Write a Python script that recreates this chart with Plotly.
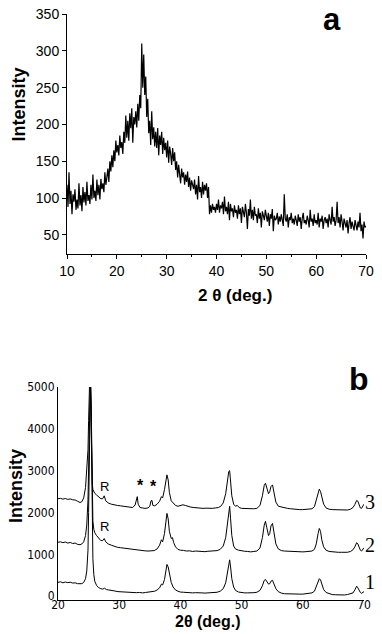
import plotly.graph_objects as go

# ---------------- Panel a data (2θ step 0.2°, 10 → 70) ----------------
a_start, a_step = 10.0, 0.2
a_intensity = [
    118, 88, 135, 92, 110, 78, 105, 95, 112, 84,
    98, 86, 120, 90, 104, 82, 115, 94, 108, 90,
    122, 96, 104, 92, 118, 98, 132, 100, 110, 96,
    125, 104, 118, 98, 126, 112, 120, 108, 135, 118,
    128, 140, 122, 150, 136, 158, 142, 165, 150, 178,
    162, 172, 158, 185, 168, 176, 160, 190, 175, 212,
    182, 205, 178, 215, 195, 222, 175, 210, 200, 218,
    196, 228, 205, 240, 222, 310, 250, 295, 240, 265,
    210, 235, 188, 205, 172, 218, 180, 196, 170, 190,
    168, 195, 158, 185, 172, 190, 160, 182, 165, 175,
    155, 178, 148, 170, 160, 145, 168, 150, 162, 138,
    150, 128, 145, 135, 120, 140, 128, 135, 118, 132,
    122, 136, 115, 128, 110, 124, 118, 112, 125, 105,
    118, 98, 130, 108, 115, 100, 122, 105, 118, 110,
    120, 100, 115, 78, 90, 80, 92, 84, 88, 80,
    92, 84, 98, 80, 90, 86, 95, 78, 102, 82,
    88, 78, 95, 70, 92, 82, 86, 74, 90, 80,
    84, 72, 90, 78, 86, 66, 88, 80, 74, 92,
    80, 58, 85, 76, 98, 72, 84, 70, 88, 76,
    78, 66, 86, 72, 80, 60, 82, 76, 70, 84,
    75, 68, 80, 62, 78, 72, 85, 55, 76, 70,
    72, 80, 64, 75, 68, 78, 70, 62, 105, 72,
    68, 78, 60, 74, 70, 80, 66, 72, 64, 76,
    70, 62, 78, 68, 74, 58, 72, 80, 66, 70,
    64, 76, 70, 60, 84, 68, 72, 62, 78, 66,
    70, 64, 80, 60, 72, 68, 76, 58, 70, 74,
    66, 72, 60, 78, 70, 64, 88, 68, 74, 62,
    70, 95, 66, 74, 60, 78, 68, 56, 72, 64,
    60, 70, 52, 66, 74, 58, 68, 62, 56, 70,
    62, 56, 68, 60, 80, 55, 64, 45, 68, 60,
    62,
]
a_theta = [round(a_start + i * a_step, 2) for i in range(len(a_intensity))]

# ---------------- Panel b data ----------------
b1_x = [20.0, 20.4, 20.8, 21.2, 21.6, 22.0, 22.4, 22.8, 23.2, 23.6, 23.9, 24.2, 24.5, 24.7, 24.9,
        25.0, 25.1, 25.2, 25.3, 25.4, 25.5, 25.6, 25.7, 25.85, 26.0, 26.3, 26.6, 27.0, 27.3, 27.6,
        27.9, 28.3, 28.8, 29.3, 29.8, 30.3, 30.8, 31.3, 31.8, 32.3, 32.8, 33.3, 33.8, 34.3, 34.8,
        35.3, 35.8, 36.2, 36.6, 36.9, 37.1, 37.4, 37.6, 37.8, 38.0, 38.2, 38.5, 38.8, 39.2, 39.6,
        40.0, 40.5, 41.0, 41.5, 42.0, 42.5, 43.0, 43.5, 44.0, 44.5, 45.0, 45.5, 46.0, 46.5, 47.0,
        47.4, 47.7, 47.9, 48.05, 48.2, 48.4, 48.7, 49.0, 49.5, 50.0, 50.5, 51.0, 51.5, 52.0, 52.5,
        53.0, 53.4, 53.7, 53.9, 54.1, 54.4, 54.6, 54.8, 55.05, 55.3, 55.6, 56.0, 56.5, 57.0, 57.5,
        58.0, 58.5, 59.0, 59.5, 60.0, 60.5, 61.0, 61.5, 61.9, 62.2, 62.5, 62.7, 62.9, 63.1, 63.4,
        63.8, 64.3, 64.8, 65.3, 65.8, 66.3, 66.8, 67.3, 67.8, 68.2, 68.5, 68.8, 69.0, 69.2, 69.4,
        69.6, 69.8, 70.0]
b1_y = [330, 345, 320, 340, 325, 335, 315, 320, 300, 290, 300, 330, 420, 600, 1100,
        2000, 3500, 4700, 5000, 4500, 3000, 1700, 900, 520, 360, 260, 210, 180, 170, 190,
        160, 150, 130, 125, 110, 105, 95, 100, 90, 95, 85, 90, 80, 90, 95,
        100, 120, 150, 200, 290, 270, 400, 620, 760, 700, 520, 330, 220, 150, 120,
        100, 95, 85, 90, 80, 85, 75, 80, 75, 80, 80, 85, 95, 120, 180,
        320, 600, 840, 870, 700, 420, 220, 140, 100, 85, 80, 80, 75, 85, 95,
        140, 250, 380, 400, 350, 290, 300, 360, 380, 300, 180, 110, 75, 60, 55,
        50, 55, 45, 50, 50, 55, 65, 80, 120, 220, 360, 420, 390, 280, 160,
        90, 55, 40, 35, 30, 35, 30, 40, 55, 80, 150, 240, 200, 130, 90,
        70, 90, 110]

b2_x = [20.0, 20.4, 20.8, 21.2, 21.6, 22.0, 22.4, 22.8, 23.2, 23.6, 23.9, 24.2, 24.5, 24.7, 24.9,
        25.0, 25.1, 25.2, 25.3, 25.4, 25.5, 25.6, 25.7, 25.85, 26.0, 26.3, 26.6, 27.0, 27.3, 27.55,
        27.8, 28.2, 28.7, 29.2, 29.7, 30.2, 30.7, 31.2, 31.7, 32.2, 32.7, 33.2, 33.7, 34.2, 34.7,
        35.2, 35.7, 36.2, 36.6, 36.9, 37.1, 37.4, 37.6, 37.8, 38.0, 38.2, 38.5, 38.7, 38.9, 39.2,
        39.6, 40.0, 40.5, 41.0, 41.5, 42.0, 42.5, 43.0, 43.5, 44.0, 44.5, 45.0, 45.5, 46.0, 46.5,
        47.0, 47.4, 47.7, 47.9, 48.05, 48.2, 48.4, 48.7, 49.0, 49.5, 50.0, 50.5, 51.0, 51.5, 52.0,
        52.5, 53.0, 53.4, 53.7, 53.9, 54.1, 54.4, 54.6, 54.8, 55.05, 55.3, 55.6, 56.0, 56.5, 57.0,
        57.5, 58.0, 58.5, 59.0, 59.5, 60.0, 60.5, 61.0, 61.5, 61.9, 62.2, 62.5, 62.7, 62.9, 63.1,
        63.4, 63.8, 64.3, 64.8, 65.3, 65.8, 66.3, 66.8, 67.3, 67.8, 68.2, 68.5, 68.8, 69.0, 69.2,
        69.4, 69.6, 69.8, 70.0]
b2_y = [1290, 1300, 1280, 1295, 1270, 1285, 1260, 1270, 1240, 1230, 1250, 1300, 1450, 1700, 2300,
        3000, 4000, 5000, 5300, 4800, 3400, 2300, 1800, 1600, 1520, 1450, 1400, 1330, 1330, 1380,
        1300, 1250, 1220, 1190, 1170, 1160, 1150, 1130, 1120, 1110, 1105, 1100, 1090, 1085, 1080,
        1080, 1090, 1130, 1220, 1350, 1300, 1500, 1800, 1980, 1850, 1550, 1380, 1400, 1280, 1180,
        1120, 1100, 1095, 1080, 1085, 1070, 1080, 1070, 1075, 1065, 1075, 1075, 1080, 1090, 1120,
        1200, 1400, 1800, 2100, 2150, 1850, 1450, 1200, 1130, 1100, 1080, 1075, 1070, 1060, 1070,
        1080, 1150, 1400, 1700, 1790, 1650, 1450, 1500, 1680, 1740, 1500, 1250, 1130, 1090, 1080,
        1075, 1070, 1075, 1065, 1070, 1060, 1065, 1070, 1080, 1120, 1250, 1500, 1620, 1550, 1350,
        1180, 1100, 1070, 1060, 1055, 1050, 1050, 1045, 1050, 1070, 1110, 1180, 1280, 1250, 1150,
        1100, 1080, 1120, 1160]

b3_x = [20.0, 20.4, 20.8, 21.2, 21.6, 22.0, 22.4, 22.8, 23.2, 23.6, 23.9, 24.2, 24.5, 24.7, 24.9,
        25.0, 25.1, 25.2, 25.3, 25.4, 25.5, 25.6, 25.7, 25.85, 26.0, 26.3, 26.6, 27.0, 27.3, 27.55,
        27.8, 28.2, 28.7, 29.2, 29.7, 30.2, 30.7, 31.2, 31.7, 32.2, 32.6, 32.8, 32.95, 33.1, 33.4,
        33.8, 34.2, 34.7, 35.0, 35.2, 35.35, 35.5, 35.8, 36.2, 36.6, 36.9, 37.1, 37.4, 37.6, 37.8,
        38.0, 38.2, 38.5, 38.8, 39.2, 39.6, 40.0, 40.4, 40.8, 41.2, 41.7, 42.2, 42.7, 43.2, 43.7,
        44.2, 44.7, 45.2, 45.7, 46.2, 46.6, 47.0, 47.4, 47.7, 47.9, 48.05, 48.2, 48.4, 48.7, 49.0,
        49.3, 49.6, 50.0, 50.5, 51.0, 51.5, 52.0, 52.5, 53.0, 53.4, 53.7, 53.9, 54.1, 54.4, 54.6,
        54.8, 55.05, 55.3, 55.6, 56.0, 56.5, 57.0, 57.5, 58.0, 58.5, 59.0, 59.5, 60.0, 60.5, 61.0,
        61.5, 61.9, 62.2, 62.5, 62.7, 62.9, 63.1, 63.4, 63.8, 64.3, 64.8, 65.3, 65.8, 66.3, 66.8,
        67.3, 67.8, 68.2, 68.5, 68.8, 69.0, 69.2, 69.4, 69.6, 69.8, 70.0]
b3_y = [2330, 2340, 2320, 2335, 2315, 2325, 2305, 2300, 2270, 2240, 2260, 2350, 2600, 3000, 3500,
        4200, 5000, 5300, 5200, 4000, 3100, 2700, 2550, 2500, 2460, 2420, 2380, 2330, 2330, 2400,
        2280, 2230, 2200, 2180, 2170, 2160, 2150, 2140, 2120, 2120, 2180, 2350, 2380, 2200, 2120,
        2110, 2100, 2110, 2150, 2280, 2290, 2170, 2160, 2200, 2270, 2380, 2350, 2550, 2780, 2900,
        2780, 2480, 2280, 2220, 2170, 2150, 2160, 2185, 2170, 2150, 2130, 2120, 2110, 2110, 2100,
        2105, 2100, 2100, 2110, 2120, 2150, 2230, 2450, 2750, 2980, 3000, 2750, 2400, 2200, 2150,
        2170, 2120, 2100, 2095, 2090, 2085, 2090, 2100, 2170, 2400, 2650, 2700, 2600, 2450, 2500,
        2620, 2660, 2480, 2250, 2150, 2130, 2120, 2100, 2090, 2080, 2075, 2070, 2070, 2075, 2080,
        2090, 2140, 2280, 2480, 2560, 2500, 2350, 2200, 2110, 2080, 2070, 2065, 2060, 2060, 2055,
        2060, 2080, 2120, 2190, 2290, 2270, 2160, 2110, 2100, 2140, 2200]

a_xticks = [10, 20, 30, 40, 50, 60, 70]
a_yticks = [50, 100, 150, 200, 250, 300, 350]
b_xticks = [20, 30, 40, 50, 60, 70]
b_yticks = [0, 1000, 2000, 3000, 4000, 5000]
curve_labels = ["1", "2", "3"]

W, H = 382, 634
def px(x):
    return x / W
def py(y):
    return 1 - y / H

fig = go.Figure()
line_style = dict(color="black", width=1)
fig.add_trace(go.Scatter(x=a_theta, y=a_intensity, mode="lines",
                         line=dict(color="black", width=1.2),
                         xaxis="x", yaxis="y", showlegend=False))
for bx, by in [(b1_x, b1_y), (b2_x, b2_y), (b3_x, b3_y)]:
    fig.add_trace(go.Scatter(x=bx, y=by, mode="lines", line=line_style,
                             xaxis="x2", yaxis="y2", showlegend=False))

sans = "Liberation Sans, Arial, sans-serif"
narrow = "Liberation Sans Narrow, DejaVu Sans Condensed, Arial Narrow, sans-serif"
serif = "Liberation Serif, Times New Roman, serif"

fig.update_layout(
    width=W, height=H,
    margin=dict(l=0, r=0, t=0, b=0, autoexpand=False),
    paper_bgcolor="white", plot_bgcolor="white",
    showlegend=False,
    xaxis=dict(domain=[px(67), px(366)], anchor="y", range=[10, 70],
               tickvals=a_xticks, ticks="outside", ticklen=4, tickwidth=1, tickcolor="black",
               minor=dict(ticks="outside", ticklen=2, dtick=5, tick0=10, tickcolor="black"),
               showline=True, linecolor="black", linewidth=1, showgrid=False, zeroline=False,
               automargin=False,
               tickfont=dict(family=sans, size=14, color="black")),
    yaxis=dict(domain=[py(254), py(14)], anchor="x", range=[24, 350],
               tickvals=a_yticks, ticks="outside", ticklen=4, tickwidth=1, tickcolor="black",
               showline=True, linecolor="black", linewidth=1, showgrid=False, zeroline=False,
               automargin=False,
               tickfont=dict(family=sans, size=14, color="black")),
    xaxis2=dict(domain=[px(58), px(364)], anchor="y2", range=[20, 70],
                tickvals=b_xticks, ticks="", ticklabelstandoff=-6,
                showline=True, linecolor="black", linewidth=1, showgrid=False, zeroline=False,
                automargin=False,
                tickfont=dict(family=narrow, size=12, color="black")),
    yaxis2=dict(domain=[py(600), py(387)], anchor="x2", range=[-90, 5000],
                tickvals=b_yticks, ticks="", ticklabelstandoff=0,
                showline=True, linecolor="black", linewidth=1, showgrid=False, zeroline=False,
                automargin=False,
                tickfont=dict(family=narrow, size=12, color="black")),
)

ann = []
def paper_text(text, x, y, size, bold=True, family=sans, angle=0, yanchor="middle"):
    t = f"<b>{text}</b>" if bold else text
    ann.append(dict(text=t, x=px(x), y=py(y), xref="paper", yref="paper",
                    xanchor="center", yanchor=yanchor, showarrow=False, textangle=angle,
                    font=dict(family=family, size=size, color="black")))

paper_text("Intensity", 18.5, 105, 18, angle=-90)
paper_text("2 θ (deg.)", 235, 295, 17)
paper_text("a", 332, 0, 31, yanchor="top")
paper_text("Intensity", 16, 486, 18, angle=-90)
paper_text("2θ (deg.)", 208, 621, 16)
paper_text("b", 359, 379, 32)
for lab, yy in zip(curve_labels, [582, 545, 502]):
    paper_text(lab, 370, yy, 20, bold=False, family=serif)

for text, xx, yy, sz, b in [("R", 27.6, 2630, 13, False), ("R", 27.6, 1666, 13, False),
                            ("*", 33.4, 2640, 16, True), ("*", 35.6, 2620, 16, True)]:
    ann.append(dict(text=f"<b>{text}</b>" if b else text, x=xx, y=yy, xref="x2", yref="y2",
                    xanchor="center", yanchor="middle", showarrow=False,
                    font=dict(family=sans, size=sz, color="black")))

fig.update_layout(annotations=ann)
fig.write_html("out.html", config={"displayModeBar": False},
               post_script="document.body.style.margin='0';document.body.style.overflow='hidden';")
